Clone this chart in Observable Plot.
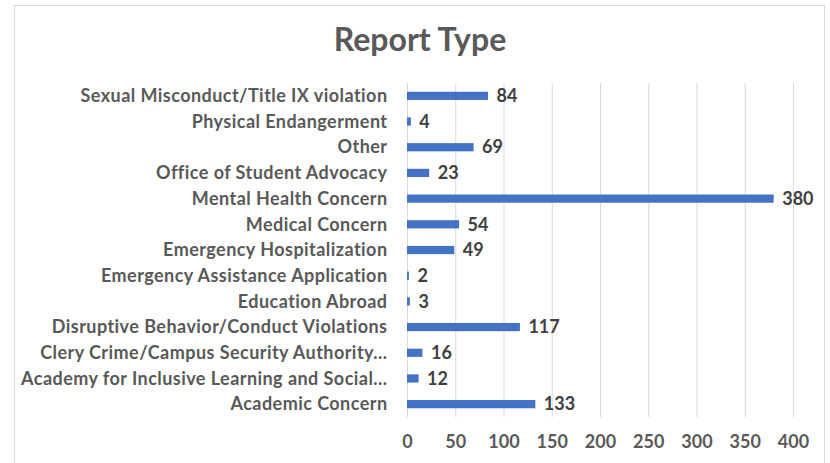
<!DOCTYPE html>
<html>
<head>
<meta charset="utf-8">
<script src="https://cdn.jsdelivr.net/npm/d3@7"></script>
<script src="https://cdn.jsdelivr.net/npm/@observablehq/plot@0.6"></script>
<style>
  html, body { margin: 0; padding: 0; background: #fff; }
  #wrap { position: relative; width: 830px; height: 463px; overflow: hidden; }
  #frame { position: absolute; left: 14px; top: 5px; width: 811px; height: 470px; border: 1px solid #d9d9d9; box-sizing: border-box; }
  #title { position: absolute; left: 0; top: 0; width: 830px; height: 70px; text-align: center;
           font-family: Lato, sans-serif; font-weight: bold; font-size: 32px; color: #595959; line-height: 78px; padding-left: 10px; box-sizing: border-box; }
  #chart { position: absolute; left: 0; top: 70px; }
  #chart svg g[aria-label="y-axis tick label"] text { letter-spacing: 0.45px; }
</style>
</head>
<body>
<div id="wrap">
  <div id="frame"></div>
  <div id="title">Report Type</div>
  <div id="chart"></div>
</div>
<script>
const categories = [
  "Sexual Misconduct/Title IX violation",
  "Physical Endangerment",
  "Other",
  "Office of Student Advocacy",
  "Mental Health Concern",
  "Medical Concern",
  "Emergency Hospitalization",
  "Emergency Assistance Application",
  "Education Abroad",
  "Disruptive Behavior/Conduct Violations",
  "Clery Crime/Campus Security Authority...",
  "Academy for Inclusive Learning and Social...",
  "Academic Concern"
];
const counts = [84, 4, 69, 23, 380, 54, 49, 2, 3, 117, 16, 12, 133];
const xTicks = [0, 50, 100, 150, 200, 250, 300, 350, 400];

const data = categories.map((c, i) => ({category: c, count: counts[i]}));
const font = "Lato, sans-serif";

const chart = Plot.plot({
  width: 830,
  height: 393,
  marginLeft: 407,
  marginRight: 37,
  marginTop: 13,
  marginBottom: 46,
  style: {fontFamily: font, background: "transparent"},
  x: {domain: [0, 400], ticks: xTicks},
  y: {domain: categories, paddingInner: 0.68, paddingOuter: 0.34, round: false},
  marks: [
    Plot.gridX(xTicks, {stroke: "#d9d9d9", strokeOpacity: 1, strokeWidth: 1}),
    Plot.barX(data, {y: "category", x: "count", fill: "#4472C4"}),
    Plot.text(data, {y: "category", x: "count", text: d => String(d.count), textAnchor: "start", dx: 8,
      fill: "#404040", fontWeight: "bold", fontSize: 18}),
    Plot.axisY({tickSize: 0, tickPadding: 20, fontSize: 18, fontWeight: "bold", fill: "#595959", label: null}),
    Plot.axisX(xTicks, {tickSize: 0, tickPadding: 18, fontSize: 18, fontWeight: "bold", fill: "#595959", label: null})
  ]
});
document.getElementById("chart").appendChild(chart);
</script>
</body>
</html>
